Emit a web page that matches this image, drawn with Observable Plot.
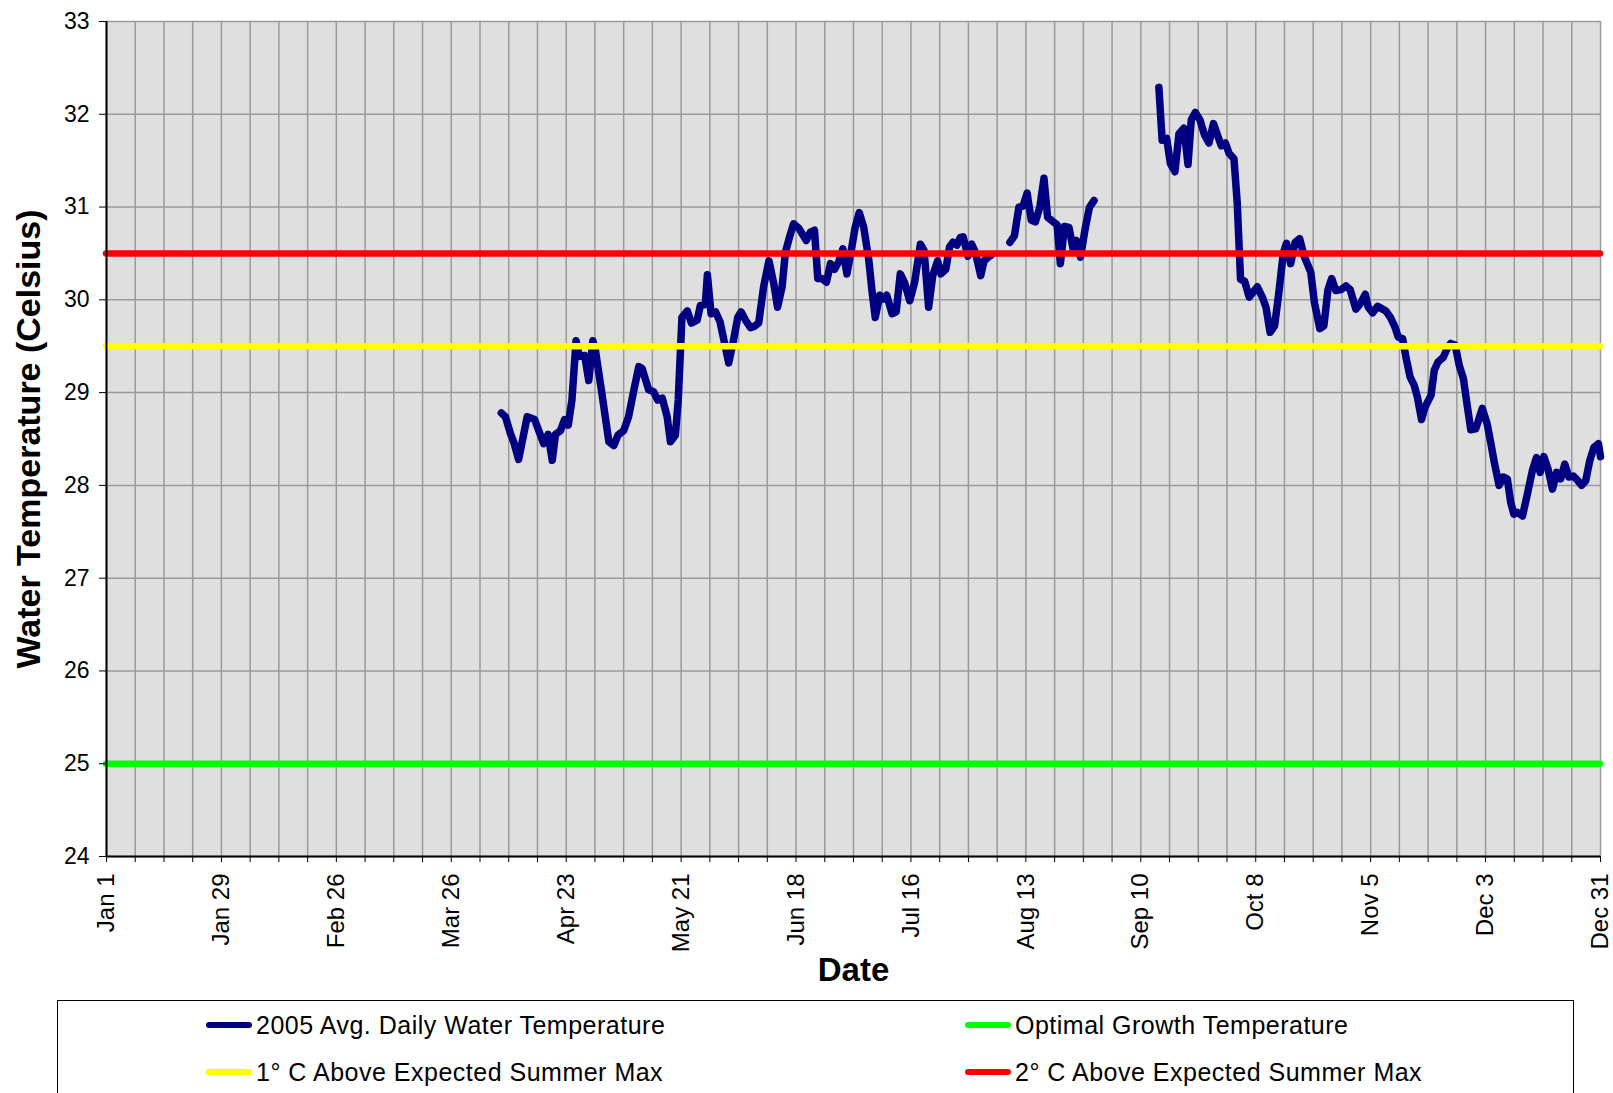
<!DOCTYPE html>
<html><head><meta charset="utf-8">
<script src="https://cdn.jsdelivr.net/npm/d3@7"></script>
<script src="https://cdn.jsdelivr.net/npm/@observablehq/plot@0.6"></script>
<style>
body{margin:0;background:#fff;font-family:"Liberation Sans",Arial,sans-serif;}
#wrap{position:relative;width:1613px;height:1093px;overflow:hidden;}
#legend{position:absolute;left:57px;top:1000px;width:1517px;height:130px;border:1px solid #000;box-sizing:border-box;background:#fff}
.item{position:absolute;display:flex;align-items:center;font-size:25px;letter-spacing:0.5px;color:#000;white-space:nowrap;height:30px}
.sw{width:46px;height:6px;border-radius:3px;margin-right:4px}
</style></head><body><div id="wrap"><div id="chart"></div><div id="legend"></div></div>
<script>
// Day of year 2005 (0 = Jan 1); null temperature marks a gap in the record
const dayOfYear = [
96.2,97.2,98.4,99.2,100.4,102.5,104.3,106.5,107.6,108.6,109.4,110.6,111.6,112.5,113.4,114.4,115.2,116.5,117.5,118.5,119.1,
120.7,122.4,123.6,124.6,126.0,127.2,128.5,129.7,130.5,132.1,133.3,134.3,135.4,136.6,137.4,138.6,139.3,140.2,141.5,142.5,
143.9,144.7,145.9,146.4,147.3,148.4,149.5,150.6,151.6,152.7,153.8,154.6,155.7,156.9,157.7,158.9,160.1,161.4,162.6,163.5,
164.6,165.4,166.5,167.4,168.7,170.5,171.5,172.5,173.3,174.3,175.4,176.4,177.4,178.4,179.4,180.4,181.6,182.4,183.4,184.5,
185.7,186.5,187.3,188.4,189.3,190.1,191.4,192.4,193.4,194.4,195.7,196.9,198.3,199.2,200.3,201.3,202.5,203.3,204.5,205.4,
206.2,207.2,208.0,208.7,209.9,210.8,211.7,213.0,213.8,214.8,215.5,
218,
220.1,221.2,222.3,223.3,224.3,225.3,226.3,227.4,228.4,229.3,230.4,231.6,232.4,233.4,234.5,235.5,236.3,237.3,238.5,239.5,240.6,
248,
256.4,257.2,258.3,259.2,260.3,261.3,262.5,263.5,264.3,265.3,266.4,267.5,268.6,269.7,270.8,271.6,272.6,273.5,274.7,275.5,
276.3,277.3,278.4,280.4,281.6,282.5,283.5,284.6,285.7,286.7,287.5,288.5,289.6,290.7,291.8,293.4,294.3,295.6,296.6,297.6,
298.5,299.5,300.8,302.0,303.0,304.4,305.5,306.7,307.4,308.5,309.7,310.9,311.7,312.8,313.9,314.7,315.8,316.6,317.6,318.6,
319.4,320.4,321.2,322.7,323.5,324.4,325.7,326.7,327.5,328.6,329.6,330.6,331.6,332.4,333.6,335.2,336.4,337.3,338.2,339.3,
340.3,341.3,342.1,342.9,343.7,345.0,346.2,347.4,348.4,349.3,350.2,351.2,352.3,353.3,354.3,355.3,356.3,357.4,358.3,359.4,
360.4,361.4,362.4,363.5,364.0
];
const temperature = [
28.78,28.74,28.56,28.47,28.28,28.74,28.71,28.45,28.55,28.27,28.55,28.59,28.71,28.65,28.92,29.56,29.39,29.40,29.13,29.56,29.46,
28.99,28.47,28.43,28.54,28.59,28.74,29.03,29.28,29.26,29.03,29.01,28.92,28.94,28.74,28.47,28.54,28.92,29.81,29.88,29.75,
29.78,29.94,29.95,30.27,29.85,29.87,29.76,29.53,29.32,29.55,29.81,29.87,29.78,29.70,29.71,29.75,30.14,30.42,30.17,29.92,
30.14,30.51,30.69,30.82,30.77,30.64,30.73,30.75,30.23,30.23,30.19,30.39,30.33,30.41,30.55,30.28,30.57,30.78,30.94,30.78,
30.44,30.10,29.81,30.05,30.01,30.05,29.85,29.87,30.28,30.19,29.99,30.19,30.60,30.53,29.92,30.26,30.42,30.28,30.33,30.57,
30.62,30.59,30.67,30.68,30.47,30.60,30.51,30.26,30.42,30.46,30.48,
null,
30.62,30.69,31.00,31.01,31.15,30.86,30.84,31.00,31.31,30.89,30.85,30.81,30.39,30.79,30.78,30.55,30.64,30.46,30.78,31.00,31.07,
null,
32.29,31.72,31.74,31.47,31.38,31.79,31.85,31.46,31.94,32.02,31.94,31.78,31.69,31.90,31.76,31.66,31.69,31.58,31.52,31.04,
30.22,30.20,30.03,30.14,30.03,29.92,29.65,29.72,30.10,30.50,30.61,30.39,30.62,30.66,30.47,30.30,29.97,29.69,29.72,30.11,
30.23,30.10,30.11,30.15,30.11,29.90,29.96,30.06,29.92,29.86,29.93,29.90,29.88,29.81,29.71,29.60,29.58,29.38,29.17,29.08,
28.95,28.71,28.84,28.97,29.24,29.33,29.38,29.48,29.53,29.51,29.29,29.15,28.84,28.60,28.61,28.83,28.66,28.45,28.23,28.00,
28.09,28.07,27.82,27.69,27.71,27.67,27.91,28.16,28.30,28.14,28.31,28.18,27.96,28.14,28.07,28.23,28.09,28.10,28.06,28.00,
28.05,28.27,28.41,28.45,28.31
];
const refNames = ["Optimal Growth Temperature","1° C Above Expected Summer Max","2° C Above Expected Summer Max"];
const refValues = [25, 29.5, 30.5];
const refColors = ["#00ff00","#ffff00","#ff0000"];
const seriesName = "2005 Avg. Daily Water Temperature";
const seriesColor = "#000080";
const xTickDates = ["2005-01-01","2005-01-29","2005-02-26","2005-03-26","2005-04-23","2005-05-21","2005-06-18","2005-07-16","2005-08-13","2005-09-10","2005-10-08","2005-11-05","2005-12-03","2005-12-31"];
const xTickLabels = ["Jan 1","Jan 29","Feb 26","Mar 26","Apr 23","May 21","Jun 18","Jul 16","Aug 13","Sep 10","Oct 8","Nov 5","Dec 3","Dec 31"];
const yTicks = [24,25,26,27,28,29,30,31,32,33];

const jan1 = new Date(Date.UTC(2005,0,1));
const toDate = d => new Date(jan1.getTime() + d*864e5);
const data = dayOfYear.map((d,i) => ({date: toDate(d), temp: temperature[i]}));
const weekDates = d3.range(0, 365, 7).map(toDate);
const labelDates = xTickDates.map(s => new Date(s + "T00:00:00Z"));
const fmt = d => xTickLabels[labelDates.findIndex(t => +t === +d)] ?? "";

const chart = Plot.plot({
  width: 1613, height: 1000,
  marginLeft: 106, marginRight: 13, marginTop: 21, marginBottom: 144,
  style: {fontFamily: '"Liberation Sans", Arial, sans-serif', background: "#fff", color: "#000", overflow: "visible"},
  x: {type: "utc", domain: [toDate(0), toDate(364)]},
  y: {domain: [24, 33]},
  marks: [
    Plot.frame({fill: "url(#dots)", stroke: "none"}),
    Plot.ruleY(yTicks, {stroke: "#9a9a9a", strokeWidth: 1.5}),
    Plot.ruleX(weekDates, {stroke: "#9a9a9a", strokeWidth: 1.5}),
    Plot.line(data, {x: "date", y: "temp", stroke: seriesColor, strokeWidth: 7.5, strokeLinejoin: "round", strokeLinecap: "round"}),
    ...refValues.map((v, i) => Plot.ruleY([v], {stroke: refColors[i], strokeWidth: 6.5, strokeLinecap: "round"})),
    Plot.axisY({ticks: yTicks, tickSize: 7, tickPadding: 10, fontSize: 23, label: null, tickFormat: d => String(d)}),
    Plot.axisX({ticks: weekDates, tickSize: 6, tickFormat: () => "", label: null}),
    Plot.axisX({ticks: labelDates, tickSize: 0, tickPadding: 17, tickRotate: -90, fontSize: 24, tickFormat: fmt, label: null}),
    Plot.ruleX([toDate(0)], {stroke: "#000", strokeWidth: 2}),
    Plot.ruleY([24], {stroke: "#000", strokeWidth: 2}),
    Plot.text(["Date"], {text: d => d, frameAnchor: "bottom", lineAnchor: "middle", textAnchor: "middle", dy: 114, fontSize: 33, fontWeight: "bold"}),
    Plot.text(["Water Temperature (Celsius)"], {text: d => d, x: toDate(0), y: 28.5, dx: -77, rotate: -90, textAnchor: "middle", lineAnchor: "middle", fontSize: 34, fontWeight: "bold"})
  ]
});
d3.select(chart).insert("defs", ":first-child").html(
  '<pattern id="dots" width="2" height="2" patternUnits="userSpaceOnUse">' +
  '<rect width="2" height="2" fill="#ebebeb"/><rect width="1" height="1" fill="#d2d2d2"/>' +
  '<rect x="1" y="1" width="1" height="1" fill="#d2d2d2"/></pattern>');
document.getElementById("chart").appendChild(chart);

const legendItems = [
  {name: seriesName, color: seriesColor, left: 148, top: 9},
  {name: refNames[0], color: refColors[0], left: 907, top: 9},
  {name: refNames[1], color: refColors[1], left: 148, top: 56},
  {name: refNames[2], color: refColors[2], left: 907, top: 56}
];
const lg = d3.select("#legend");
legendItems.forEach(it => {
  const d = lg.append("div").attr("class", "item").style("left", it.left + "px").style("top", it.top + "px");
  d.append("div").attr("class", "sw").style("background", it.color);
  d.append("span").text(it.name);
});
</script></body></html>
